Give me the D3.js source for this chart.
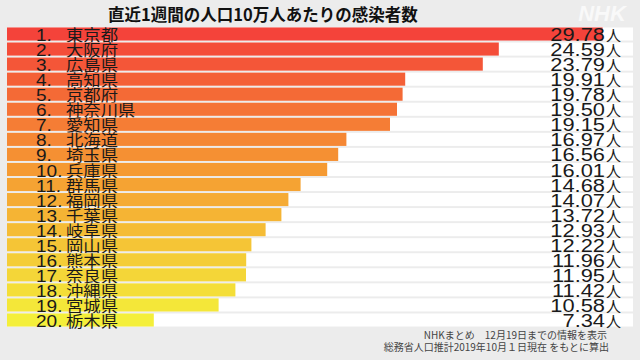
<!DOCTYPE html>
<html><head><meta charset="utf-8">
<script src="https://cdn.jsdelivr.net/npm/d3@7"></script>
<style>
html,body{margin:0;padding:0;background:#ececec;}
svg{display:block;}
</style></head>
<body>
<svg id="c" width="640" height="360"></svg>
<script>
const ranks = ["1.","2.","3.","4.","5.","6.","7.","8.","9.","10.","11.","12.","13.","14.","15.","16.","17.","18.","19.","20."];
const prefectures = ["東京都","大阪府","広島県","高知県","京都府","神奈川県","愛知県","北海道","埼玉県","兵庫県","群馬県","福岡県","千葉県","岐阜県","岡山県","熊本県","奈良県","沖縄県","宮城県","栃木県"];
const values = [29.78,24.59,23.79,19.91,19.78,19.50,19.15,16.97,16.56,16.01,14.68,14.07,13.72,12.93,12.22,11.96,11.95,11.42,10.58,7.34];
const title = "直近1週間の人口10万人あたりの感染者数";
const unit = "人";
const notes = ["NHKまとめ　12月19日までの情報を表示","総務省人口推計2019年10月１日現在 をもとに算出"];

const svg = d3.select("#c");
const jp = "'Noto Sans CJK JP','Noto Sans',sans-serif";
const num = "'Liberation Sans','Noto Sans',sans-serif";

svg.append("rect").attr("width",640).attr("height",360).attr("fill","#ececec");

const x = d3.scaleLinear().domain([0,31.3]).range([7,633]);
const y = d3.scaleBand().domain(d3.range(values.length)).range([27,327]).paddingInner(0.13).paddingOuter(0.03);
const color = d3.scaleLinear().domain([0,9,19]).range(["#f4433a","#f59a32","#f4ef3a"]).interpolate(d3.interpolateRgb);

const rows = svg.append("g").selectAll("g").data(values).join("g")
  .attr("transform",(d,i)=>`translate(0,${y(i)})`);

rows.append("rect").attr("x",x(0)).attr("width",x.range()[1]-x(0)).attr("height",y.bandwidth()).attr("fill","#ffffff");
rows.append("rect").attr("x",x(0)).attr("width",d=>x(d)-x(0)).attr("height",y.bandwidth()).attr("fill",(d,i)=>color(i));

const bl = y.bandwidth()+0.5;
rows.append("text").attr("transform",`translate(36,${bl}) scale(1.12,1)`).text((d,i)=>ranks[i])
  .attr("font-family",num).attr("font-size",17).attr("fill","#1a1a1a");
rows.append("text").attr("transform",`translate(66,${bl}) scale(1.12,1)`).text((d,i)=>prefectures[i])
  .attr("font-family",jp).attr("font-size",15.5).attr("fill","#1a1a1a");
rows.append("text").attr("transform",`translate(605,${bl}) scale(1.15,1)`).attr("text-anchor","end").text(d=>d.toFixed(2))
  .attr("font-family",num).attr("font-size",19).attr("fill","#1a1a1a");
rows.append("text").attr("x",606).attr("y",bl).text(unit)
  .attr("font-family",jp).attr("font-size",15).attr("fill","#1a1a1a");

svg.append("text").attr("x",108).attr("y",21).text(title)
  .attr("font-family",jp).attr("font-weight","bold").attr("font-size",16.5).attr("fill","#111");

svg.append("text").attr("x",602).attr("y",21).attr("text-anchor","middle").text("NHK")
  .attr("font-family",num).attr("font-weight","bold").attr("font-style","italic").attr("font-size",22)
  .attr("fill","#ffffff").attr("opacity",0.7);

svg.selectAll(".note").data(notes).join("text")
  .attr("x",(d,i)=>i===0?607:609).attr("y",(d,i)=>339+i*12).attr("text-anchor","end").text(d=>d)
  .attr("font-family",jp).attr("font-size",10).attr("fill","#444");
</script>
</body></html>
